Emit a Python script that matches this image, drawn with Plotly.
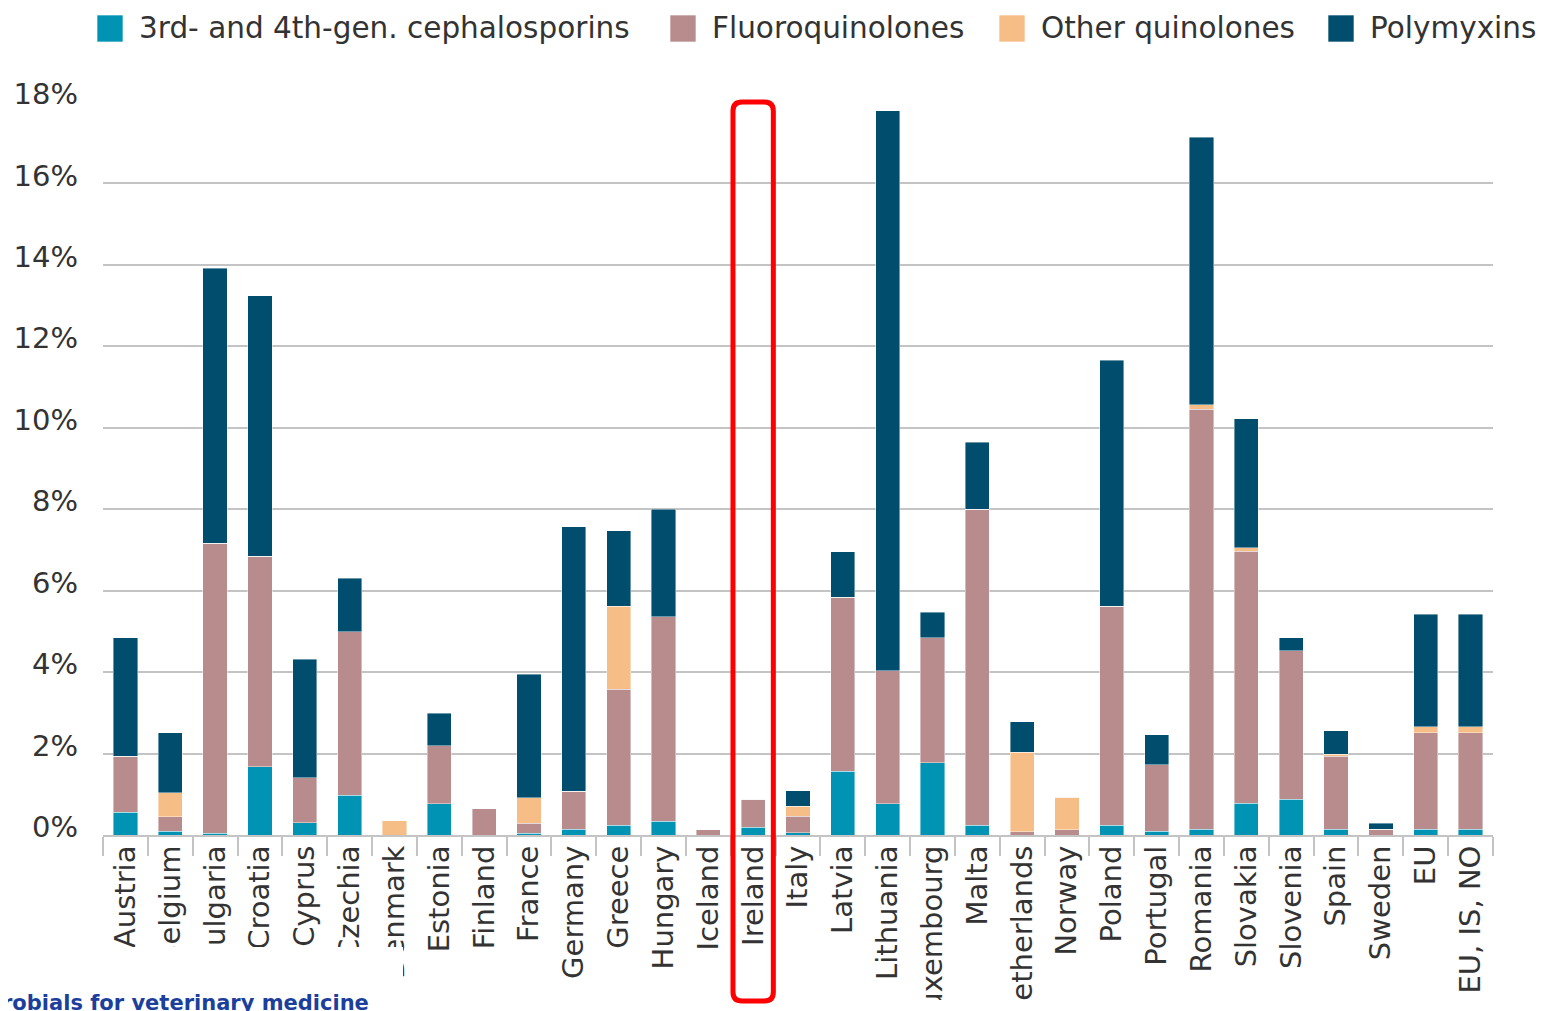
import plotly.graph_objects as go

countries = [
    "Austria", "Belgium", "Bulgaria", "Croatia", "Cyprus", "Czechia", "Denmark",
    "Estonia", "Finland", "France", "Germany", "Greece", "Hungary", "Iceland",
    "Ireland", "Italy", "Latvia", "Lithuania", "Luxembourg", "Malta",
    "Netherlands", "Norway", "Poland", "Portugal", "Romania", "Slovakia",
    "Slovenia", "Spain", "Sweden", "EU", "EU, IS, NO",
]

# share of total sales (%)
cephalosporins = [0.56, 0.09, 0.04, 1.68, 0.30, 0.98, 0.00, 0.77, 0.00, 0.04,
                  0.14, 0.24, 0.34, 0.00, 0.19, 0.06, 1.56, 0.77, 1.78, 0.24,
                  0.00, 0.00, 0.24, 0.09, 0.14, 0.78, 0.88, 0.14, 0.00, 0.14, 0.14]
fluoroquinolones = [1.38, 0.36, 7.13, 5.17, 1.10, 4.01, 0.00, 1.42, 0.65, 0.25,
                    0.94, 3.34, 5.02, 0.13, 0.69, 0.40, 4.28, 3.26, 3.06, 7.76,
                    0.08, 0.13, 5.38, 1.63, 10.32, 6.19, 3.64, 1.80, 0.14, 2.37, 2.37]
other_quinolones = [0.00, 0.59, 0.00, 0.00, 0.00, 0.00, 0.35, 0.00, 0.00, 0.63,
                    0.00, 2.04, 0.00, 0.00, 0.00, 0.25, 0.00, 0.00, 0.00, 0.00,
                    1.95, 0.80, 0.00, 0.00, 0.10, 0.08, 0.00, 0.04, 0.00, 0.15, 0.15]
polymyxins = [2.90, 1.47, 6.75, 6.39, 2.91, 1.32, 0.00, 0.80, 0.00, 3.03,
              6.49, 1.85, 2.64, 0.00, 0.00, 0.38, 1.11, 13.75, 0.63, 1.65,
              0.75, 0.00, 6.04, 0.74, 6.58, 3.17, 0.32, 0.58, 0.15, 2.76, 2.76]

series = [
    ("3rd- and 4th-gen. cephalosporins", cephalosporins, "#0093b4"),
    ("Fluoroquinolones", fluoroquinolones, "#b88b8c"),
    ("Other quinolones", other_quinolones, "#f7bd86"),
    ("Polymyxins", polymyxins, "#004d6e"),
]
highlight = "Ireland"

# page body has an 8px margin, so everything is laid out 8px up/left
OFF = 8
W, H = 1550 - OFF, 1011 - OFF
ML, MT = 103 - OFF, 102 - OFF
MR = W - (1493 - OFF)
MB = H - (835 - OFF)
PW, PH = W - ML - MR, H - MT - MB


def px_x(px):
    return (px - OFF - ML) / PW


def px_y(py):
    return (H - MB - (py - OFF)) / PH


fig = go.Figure()
for name, vals, color in series:
    fig.add_trace(go.Bar(
        x=countries, y=vals, name=name, showlegend=False,
        marker=dict(color=color, line=dict(width=0.6, color="rgba(255,255,255,0.7)")),
    ))

font = "DejaVu Sans, Verdana, sans-serif"
fig.update_layout(
    width=W, height=H,
    barmode="stack", bargap=0.46,
    margin=dict(l=ML, r=MR, t=MT, b=MB, autoexpand=False),
    paper_bgcolor="white", plot_bgcolor="white",
    font=dict(family=font, size=29, color="#333333"),
)
fig.update_yaxes(
    range=[0, 18], dtick=2, ticksuffix="%",
    showgrid=True, gridcolor="#c4c4c4", gridwidth=2,
    zeroline=False, showline=False, ticks="", ticklabelstandoff=24,
    ticklabelshift=-8,
)
fig.update_xaxes(
    type="category", tickangle=-90,
    showline=True, linecolor="#c4c4c4", linewidth=2,
    ticks="outside", tickson="boundaries", ticklen=19, tickwidth=1.5,
    tickcolor="#c4c4c4", ticklabelstandoff=-3, automargin=False,
)

# legend drawn by hand: big squares like the source
legend_x = [97, 670, 999, 1328]
for (name, _, color), lx in zip(series, legend_x):
    fig.add_shape(type="rect", xref="paper", yref="paper",
                  x0=px_x(lx), x1=px_x(lx + 26), y0=px_y(42), y1=px_y(15),
                  fillcolor=color, line=dict(width=0.8, color="rgba(255,255,255,0.8)"))
    fig.add_annotation(text=name, xref="paper", yref="paper",
                       x=px_x(lx + 40), y=px_y(28), xanchor="left", yanchor="middle",
                       showarrow=False, font=dict(size=29.5, color="#333333"))

# white patches where the source page cut the labels
fig.add_shape(type="rect", xref="paper", yref="paper",
              x0=px_x(0), x1=px_x(403), y0=px_y(1011), y1=px_y(947),
              fillcolor="white", line_width=0, layer="above")
fig.add_shape(type="rect", xref="paper", yref="paper",
              x0=px_x(0), x1=px_x(1550), y0=px_y(1011), y1=px_y(1000),
              fillcolor="white", line_width=0, layer="above")

# red frame around the highlighted country
i = countries.index(highlight)
n = len(countries)
cx = (i + 0.5) / n
hw = 0.45 / n
x0, x1 = cx - hw, cx + hw
y0, y1 = px_y(1001), 1.0
rx, ry = 9 / PW, 9 / PH
path = (f"M{x0 + rx},{y1} L{x1 - rx},{y1} Q{x1},{y1} {x1},{y1 - ry} "
        f"L{x1},{y0 + ry} Q{x1},{y0} {x1 - rx},{y0} L{x0 + rx},{y0} "
        f"Q{x0},{y0} {x0},{y0 + ry} L{x0},{y1 - ry} Q{x0},{y1} {x0 + rx},{y1} Z")
fig.add_shape(type="path", xref="paper", yref="paper", path=path,
              line=dict(color="#ff0000", width=5), layer="above")

fig.add_annotation(
    text="<b>robials for veterinary medicine</b>", xref="paper", yref="paper",
    x=px_x(0), y=px_y(989), xanchor="left", yanchor="top", showarrow=False,
    font=dict(family=font, size=21, color="#1c3f9c"),
)

fig.write_html("out.html")
